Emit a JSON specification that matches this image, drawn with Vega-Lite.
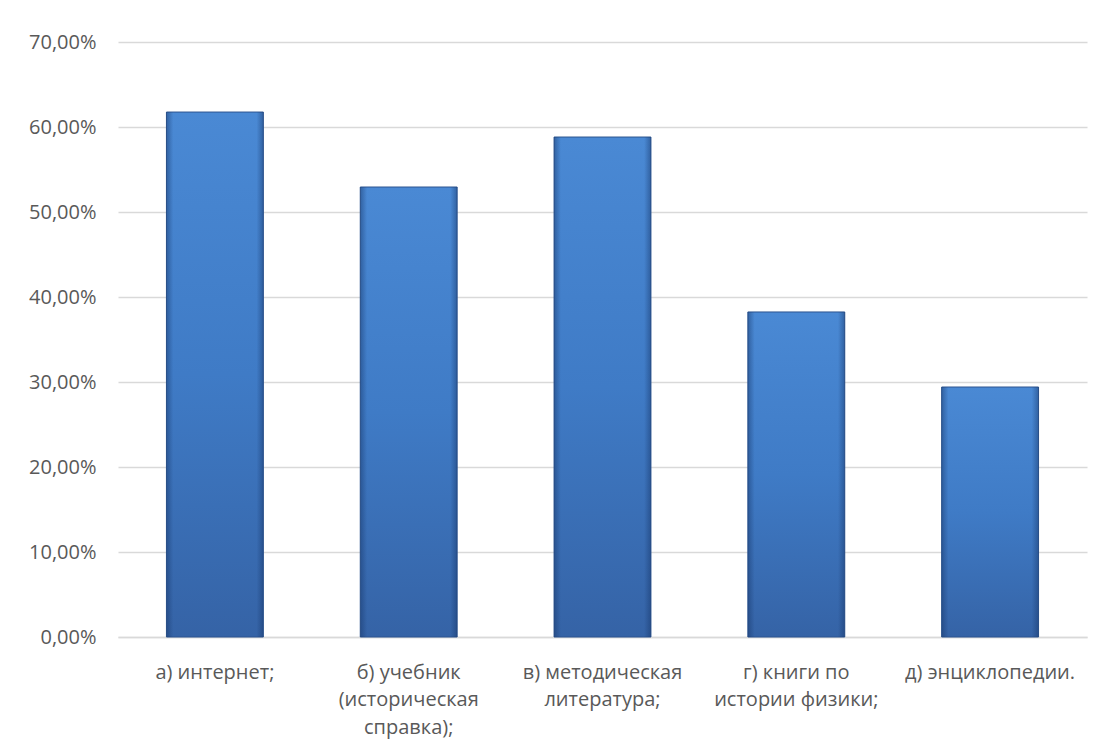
{
  "$schema": "https://vega.github.io/schema/vega-lite/v6.json",
  "autosize": "none",
  "width": 969,
  "height": 595,
  "padding": {"left": 118, "top": 42, "right": 20, "bottom": 112},
  "background": "#ffffff",
  "config": {
    "locale": {"number": {"decimal": ",", "thousands": " ", "grouping": [3], "currency": ["", " ₽"]}},
    "view": {"stroke": null},
    "font": "Open Sans"
  },
  "data": {
    "values": [
      {"source": "а) интернет;", "share": 0.6176},
      {"source": "б) учебник|(историческая|справка);", "share": 0.5294},
      {"source": "в) методическая|литература;", "share": 0.5882},
      {"source": "г) книги по|истории физики;", "share": 0.3824},
      {"source": "д) энциклопедии.", "share": 0.2941}
    ]
  },
  "encoding": {
    "x": {
      "field": "source",
      "type": "nominal",
      "sort": null,
      "scale": {"paddingInner": 0.5, "paddingOuter": 0.25},
      "axis": {
        "title": null,
        "labelAngle": 0,
        "labelExpr": "split(datum.value, '|')",
        "labelFont": "Open Sans",
        "labelFontSize": 20,
        "labelColor": "#595959",
        "labelLineHeight": 27.5,
        "labelPadding": 25,
        "labelLimit": 220,
        "ticks": false,
        "domainColor": "#d9d9d9",
        "domainWidth": 1.5
      }
    },
    "y": {
      "field": "share",
      "type": "quantitative",
      "scale": {"domain": [0, 0.7]},
      "axis": {
        "title": null,
        "format": ".2%",
        "values": [0, 0.1, 0.2, 0.3, 0.4, 0.5, 0.6, 0.7],
        "labelFont": "Open Sans",
        "labelFontSize": 20,
        "labelColor": "#595959",
        "labelPadding": 22,
        "ticks": false,
        "domain": false,
        "gridColor": "#d9d9d9",
        "gridWidth": 1.5
      }
    }
  },
  "layer": [
    {
      "mark": {
        "type": "bar",
        "stroke": "#2d5590",
        "strokeWidth": 1,
        "fill": {
          "gradient": "linear",
          "x1": 0, "y1": 0, "x2": 0, "y2": 1,
          "stops": [
            {"offset": 0, "color": "#4a89d4"},
            {"offset": 0.5, "color": "#3f7bc6"},
            {"offset": 1, "color": "#3563a6"}
          ]
        }
      }
    },
    {
      "mark": {
        "type": "bar",
        "fill": {
          "gradient": "linear",
          "x1": 0, "y1": 0, "x2": 1, "y2": 0,
          "stops": [
            {"offset": 0, "color": "rgba(20,50,100,0.45)"},
            {"offset": 0.07, "color": "rgba(20,50,100,0.0)"},
            {"offset": 0.93, "color": "rgba(20,50,100,0.0)"},
            {"offset": 1, "color": "rgba(20,50,100,0.45)"}
          ]
        }
      }
    }
  ]
}
